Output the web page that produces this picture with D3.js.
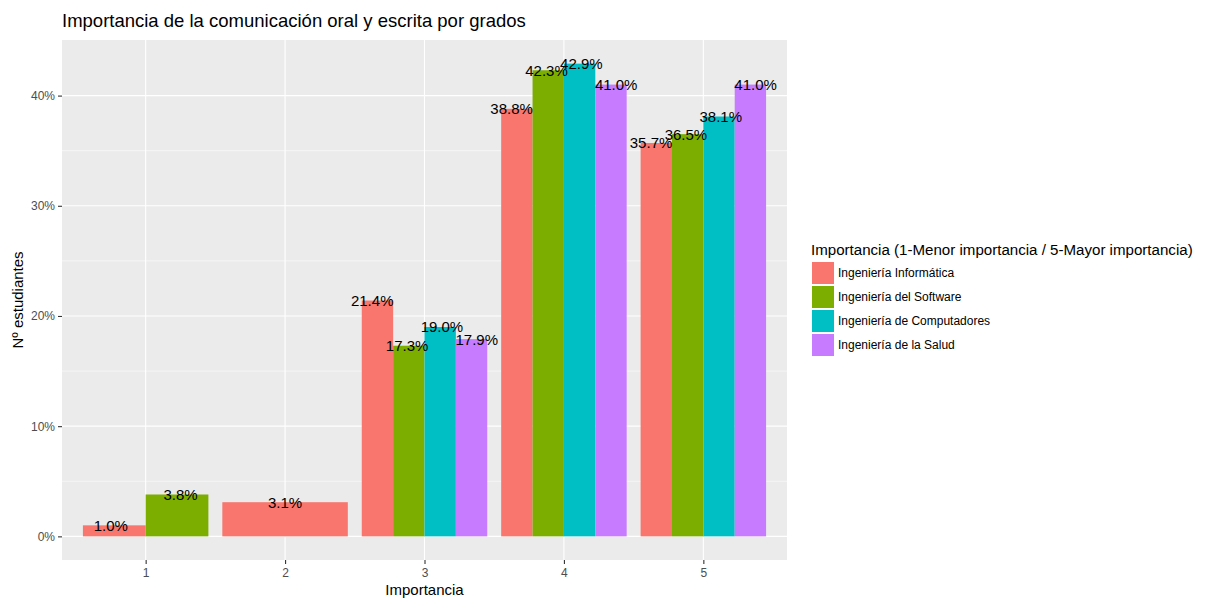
<!DOCTYPE html>
<html>
<head>
<meta charset="utf-8">
<script src="https://cdn.jsdelivr.net/npm/d3@7"></script>
<style>
  html, body { margin: 0; padding: 0; background: #fff; }
  svg { display: block; font-family: "Liberation Sans", Arial, sans-serif; }
</style>
</head>
<body>
<svg id="chart" width="1205" height="599"></svg>
<script>
const categories = ["1", "2", "3", "4", "5"];
const seriesNames = ["Ingeniería Informática", "Ingeniería del Software", "Ingeniería de Computadores", "Ingeniería de la Salud"];
const seriesColors = ["#F8766D", "#7CAE00", "#00BFC4", "#C77CFF"];
// null = no bar for that series in that category
const informatica = [1.0, 3.1, 21.4, 38.8, 35.7];
const software = [3.8, null, 17.3, 42.3, 36.5];
const computadores = [null, null, 19.0, 42.9, 38.1];
const salud = [null, null, 17.9, 41.0, 41.0];
const yTicks = [0, 10, 20, 30, 40];
const yMinor = [5, 15, 25, 35];

const title = "Importancia de la comunicación oral y escrita por grados";
const xTitle = "Importancia";
const yTitle = "Nº estudiantes";
const legendTitle = "Importancia (1-Menor importancia / 5-Mayor importancia)";

const seriesValues = [informatica, software, computadores, salud];

const svg = d3.select("#chart");
const panel = { left: 62, right: 787, top: 40, bottom: 560 };

// discrete x as continuous positions 1..5 with 0.6 expansion
const x = d3.scaleLinear().domain([0.4, 5.6]).range([panel.left, panel.right]);
const maxV = d3.max(seriesValues.flat().filter(v => v != null));
const pad = maxV * 0.05;
const y = d3.scaleLinear().domain([-pad, maxV + pad]).range([panel.bottom, panel.top]);

// panel background
svg.append("rect").attr("x", panel.left).attr("y", panel.top)
  .attr("width", panel.right - panel.left).attr("height", panel.bottom - panel.top)
  .attr("fill", "#EBEBEB");

// minor grid
svg.append("g").selectAll("line").data(yMinor).join("line")
  .attr("x1", panel.left).attr("x2", panel.right)
  .attr("y1", d => y(d)).attr("y2", d => y(d))
  .attr("stroke", "#fff").attr("stroke-width", 0.55);
// major grid
svg.append("g").selectAll("line").data(yTicks).join("line")
  .attr("x1", panel.left).attr("x2", panel.right)
  .attr("y1", d => y(d)).attr("y2", d => y(d))
  .attr("stroke", "#fff").attr("stroke-width", 1.1);
svg.append("g").selectAll("line").data(categories).join("line")
  .attr("x1", (d, i) => x(i + 1)).attr("x2", (d, i) => x(i + 1))
  .attr("y1", panel.top).attr("y2", panel.bottom)
  .attr("stroke", "#fff").attr("stroke-width", 1.1);

// build dodged bars
const bars = [];
categories.forEach((c, ci) => {
  const present = seriesValues.map((arr, si) => ({ si, v: arr[ci] })).filter(d => d.v != null);
  const n = present.length;
  present.forEach((d, k) => {
    const bw = 0.9 / n;
    const tw = 1.0 / n;
    bars.push({
      si: d.si, v: d.v,
      x0: (ci + 1) - 0.45 + k * bw,
      x1: (ci + 1) - 0.45 + (k + 1) * bw,
      tx: (ci + 1) - 0.5 + (k + 0.5) * tw
    });
  });
});

svg.append("g").selectAll("rect").data(bars).join("rect")
  .attr("x", d => x(d.x0)).attr("width", d => x(d.x1) - x(d.x0))
  .attr("y", d => y(d.v)).attr("height", d => y(0) - y(d.v))
  .attr("fill", d => seriesColors[d.si]);

svg.append("g").selectAll("text").data(bars).join("text")
  .attr("x", d => x(d.tx)).attr("y", d => y(d.v))
  .attr("text-anchor", "middle").attr("dominant-baseline", "central")
  .attr("font-size", 15).attr("fill", "#000")
  .text(d => d.v.toFixed(1) + "%");

// y axis
const yAxis = d3.axisLeft(y).tickValues(yTicks).tickSize(4).tickPadding(3).tickFormat(d => d + "%");
const gy = svg.append("g").attr("transform", `translate(${panel.left},0)`).call(yAxis);
gy.select(".domain").remove();
gy.selectAll(".tick line").attr("stroke", "#333").attr("stroke-width", 1.1);
gy.selectAll(".tick text").attr("fill", "#4D4D4D").attr("font-size", 12)
  .attr("font-family", "Liberation Sans, Arial, sans-serif");

// x axis
const xBand = d3.scalePoint().domain(categories).range([x(1), x(5)]);
const xAxis = d3.axisBottom(xBand).tickSize(4).tickPadding(4);
const gx = svg.append("g").attr("transform", `translate(0,${panel.bottom})`).call(xAxis);
gx.select(".domain").remove();
gx.selectAll(".tick line").attr("stroke", "#333").attr("stroke-width", 1.1);
gx.selectAll(".tick text").attr("fill", "#4D4D4D").attr("font-size", 12)
  .attr("font-family", "Liberation Sans, Arial, sans-serif");

// titles
svg.append("text").attr("x", panel.left).attr("y", 27)
  .attr("font-size", 18.5).attr("fill", "#000").text(title);
svg.append("text").attr("x", (panel.left + panel.right) / 2).attr("y", 595)
  .attr("text-anchor", "middle").attr("font-size", 15).attr("fill", "#000").text(xTitle);
svg.append("text").attr("transform", `translate(23,${(panel.top + panel.bottom) / 2}) rotate(-90)`)
  .attr("text-anchor", "middle").attr("font-size", 15).attr("fill", "#000").text(yTitle);

// legend
const lg = svg.append("g").attr("transform", "translate(811,0)");
lg.append("text").attr("x", 0).attr("y", 255).attr("font-size", 15.1).attr("fill", "#000").text(legendTitle);
const items = lg.selectAll("g.item").data(seriesNames).join("g").attr("class", "item")
  .attr("transform", (d, i) => `translate(0,${262 + i * 24})`);
items.append("rect").attr("x", 1).attr("y", 0).attr("width", 22).attr("height", 22)
  .attr("fill", (d, i) => seriesColors[i]);
items.append("text").attr("x", 27).attr("y", 11).attr("dominant-baseline", "central")
  .attr("font-size", 12).attr("fill", "#000").text(d => d);
</script>
</body>
</html>
